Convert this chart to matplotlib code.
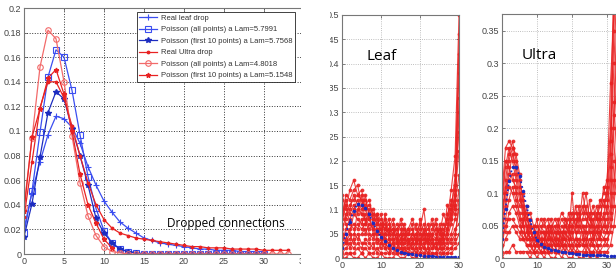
import numpy as np
import matplotlib
matplotlib.use("Agg")
import matplotlib.pyplot as plt
from matplotlib.patches import Rectangle

plt.rcParams['font.family'] = ['Liberation Sans', 'DejaVu Sans']

#### Data
x_leaf = np.arange(0, 31)
x_ultra = np.arange(0, 34)

leaf_real = [0.020, 0.050, 0.075, 0.097, 0.112, 0.110, 0.103, 0.090, 0.071, 0.056,
             0.043, 0.034, 0.026, 0.021, 0.017, 0.013, 0.011, 0.009, 0.008, 0.007,
             0.006, 0.005, 0.004, 0.004, 0.003, 0.003, 0.003, 0.002, 0.002, 0.002, 0.002]
leaf_pois_all = [0.017, 0.051, 0.099, 0.144, 0.166, 0.160, 0.133, 0.097, 0.063, 0.037,
                 0.019, 0.009, 0.004, 0.002, 0.001, 0.000, 0.000, 0.000, 0.000, 0.000,
                 0.000, 0.000, 0.000, 0.000, 0.000, 0.000, 0.000, 0.000, 0.000, 0.000, 0.000]
leaf_pois_10 = [0.014, 0.041, 0.079, 0.115, 0.132, 0.126, 0.102, 0.080, 0.056, 0.029,
                0.017, 0.009, 0.004, 0.002, 0.001, 0.000, 0.000, 0.000, 0.000, 0.000,
                0.000, 0.000, 0.000, 0.000, 0.000, 0.000, 0.000, 0.000, 0.000, 0.000, 0.000]
ultra_real = [0.030, 0.075, 0.119, 0.140, 0.140, 0.127, 0.104, 0.080, 0.058, 0.040,
              0.028, 0.021, 0.017, 0.015, 0.013, 0.012, 0.011, 0.010, 0.009, 0.008,
              0.007, 0.006, 0.006, 0.005, 0.005, 0.005, 0.004, 0.004, 0.004, 0.004,
              0.003, 0.003, 0.003, 0.003]
ultra_pois_all = [0.038, 0.094, 0.152, 0.182, 0.175, 0.140, 0.096, 0.058, 0.031, 0.015,
                  0.006, 0.002, 0.001, 0.000, 0.000, 0.000, 0.000, 0.000, 0.000, 0.000,
                  0.000, 0.000, 0.000, 0.000, 0.000, 0.000, 0.000, 0.000, 0.000, 0.000,
                  0.000, 0.000, 0.000, 0.000]
ultra_pois_10 = [0.035, 0.095, 0.118, 0.143, 0.150, 0.130, 0.100, 0.065, 0.040, 0.025,
                 0.012, 0.005, 0.002, 0.001, 0.000, 0.000, 0.000, 0.000, 0.000, 0.000,
                 0.000, 0.000, 0.000, 0.000, 0.000, 0.000, 0.000, 0.000, 0.000, 0.000,
                 0.000, 0.000, 0.000, 0.000]

labels = ['Real leaf drop',
          'Poisson (all points) a Lam=5.7991',
          'Poisson (first 10 points) a Lam=5.7568',
          'Real Ultra drop',
          'Poisson (all points) a Lam=4.8018',
          'Poisson (first 10 points) a Lam=5.1548']

# per-node curves, Leaf panel (x = 0..30)
leaf_nodes = [
    [0.13,0.10,0.14,0.16,0.13,0.12,0.10,0.11,0.09,0.07,0.08,0.06,0.07,0.05,0.06,0.04,0.05,0.06,0.04,0.05,0.03,0.04,0.05,0.03,0.04,0.06,0.05,0.08,0.14,0.21,0.50],
    [0.08,0.13,0.12,0.14,0.15,0.11,0.12,0.09,0.10,0.08,0.06,0.07,0.05,0.06,0.04,0.05,0.07,0.03,0.05,0.04,0.06,0.10,0.03,0.05,0.02,0.04,0.07,0.06,0.10,0.17,0.42],
    [0.05,0.09,0.11,0.12,0.13,0.14,0.10,0.08,0.09,0.07,0.09,0.05,0.06,0.08,0.05,0.03,0.04,0.05,0.06,0.03,0.04,0.05,0.06,0.07,0.05,0.03,0.04,0.11,0.08,0.14,0.38],
    [0.03,0.06,0.08,0.10,0.12,0.10,0.11,0.12,0.08,0.06,0.05,0.08,0.04,0.05,0.07,0.06,0.03,0.04,0.03,0.05,0.07,0.04,0.03,0.06,0.07,0.05,0.09,0.07,0.12,0.10,0.30],
    [0.10,0.07,0.05,0.09,0.08,0.07,0.09,0.06,0.07,0.05,0.06,0.04,0.03,0.04,0.03,0.05,0.02,0.03,0.04,0.02,0.05,0.03,0.04,0.02,0.03,0.07,0.03,0.05,0.09,0.13,0.22],
    [0.02,0.04,0.06,0.07,0.06,0.08,0.05,0.07,0.06,0.04,0.03,0.05,0.06,0.03,0.02,0.04,0.05,0.02,0.03,0.04,0.02,0.06,0.02,0.04,0.06,0.02,0.05,0.04,0.07,0.11,0.17],
    [0.06,0.03,0.04,0.05,0.04,0.05,0.06,0.04,0.05,0.03,0.04,0.02,0.04,0.02,0.03,0.02,0.03,0.04,0.02,0.03,0.04,0.02,0.05,0.03,0.02,0.04,0.02,0.03,0.05,0.08,0.14],
    [0.01,0.02,0.03,0.02,0.03,0.02,0.04,0.03,0.02,0.04,0.02,0.03,0.02,0.01,0.02,0.03,0.01,0.02,0.01,0.02,0.01,0.03,0.01,0.02,0.03,0.01,0.02,0.04,0.03,0.05,0.10],
    [0.04,0.05,0.02,0.04,0.10,0.09,0.08,0.05,0.04,0.06,0.05,0.03,0.02,0.03,0.05,0.01,0.02,0.01,0.03,0.01,0.02,0.01,0.02,0.01,0.01,0.02,0.03,0.02,0.04,0.06,0.07],
    [0.00,0.01,0.01,0.01,0.02,0.01,0.02,0.01,0.01,0.02,0.01,0.01,0.01,0.02,0.01,0.01,0.02,0.01,0.01,0.00,0.01,0.01,0.00,0.01,0.01,0.00,0.01,0.01,0.02,0.03,0.05],
    [0.07,0.12,0.09,0.11,0.09,0.13,0.07,0.10,0.08,0.09,0.07,0.06,0.08,0.04,0.06,0.07,0.04,0.06,0.08,0.06,0.05,0.07,0.04,0.08,0.06,0.05,0.04,0.09,0.11,0.15,0.26],
    [0.00,0.00,0.01,0.00,0.00,0.01,0.00,0.01,0.00,0.00,0.01,0.00,0.00,0.00,0.01,0.00,0.00,0.01,0.00,0.00,0.01,0.00,0.00,0.00,0.01,0.00,0.00,0.01,0.01,0.02,0.03],
    [0.12,0.08,0.10,0.13,0.11,0.09,0.13,0.08,0.06,0.09,0.04,0.09,0.05,0.07,0.03,0.08,0.06,0.05,0.07,0.03,0.08,0.05,0.07,0.04,0.08,0.03,0.06,0.05,0.08,0.12,0.33],
    [0.02,0.03,0.05,0.03,0.05,0.03,0.03,0.02,0.03,0.01,0.03,0.02,0.01,0.03,0.01,0.02,0.01,0.03,0.02,0.01,0.03,0.02,0.01,0.03,0.02,0.03,0.01,0.02,0.02,0.04,0.12],
    [0.09,0.11,0.07,0.06,0.07,0.06,0.07,0.09,0.05,0.05,0.07,0.04,0.05,0.06,0.04,0.03,0.06,0.03,0.05,0.07,0.03,0.05,0.03,0.05,0.04,0.06,0.03,0.06,0.10,0.09,0.46],
]

# per-node curves, Ultra panel (x = 0..33)
ultra_nodes = [
    [0.10,0.17,0.18,0.17,0.13,0.10,0.07,0.05,0.03,0.04,0.02,0.03,0.02,0.04,0.03,0.05,0.04,0.06,0.05,0.04,0.07,0.05,0.06,0.08,0.06,0.05,0.07,0.06,0.08,0.10,0.12,0.20,0.45,0.60],
    [0.05,0.12,0.16,0.18,0.15,0.12,0.09,0.06,0.05,0.03,0.04,0.02,0.03,0.05,0.02,0.04,0.06,0.03,0.05,0.06,0.04,0.08,0.05,0.10,0.07,0.06,0.05,0.08,0.06,0.09,0.07,0.14,0.40,0.55],
    [0.08,0.14,0.17,0.15,0.12,0.09,0.08,0.04,0.06,0.02,0.03,0.05,0.04,0.02,0.05,0.03,0.02,0.05,0.04,0.03,0.10,0.04,0.07,0.05,0.04,0.09,0.04,0.05,0.07,0.06,0.11,0.27,0.38,0.50],
    [0.03,0.09,0.13,0.16,0.14,0.11,0.06,0.07,0.04,0.05,0.02,0.04,0.06,0.03,0.04,0.02,0.05,0.04,0.03,0.07,0.05,0.06,0.04,0.06,0.08,0.04,0.06,0.04,0.05,0.11,0.09,0.16,0.30,0.45],
    [0.06,0.11,0.12,0.13,0.10,0.08,0.10,0.05,0.03,0.04,0.06,0.02,0.03,0.04,0.06,0.04,0.03,0.02,0.06,0.04,0.03,0.05,0.08,0.03,0.05,0.07,0.03,0.07,0.04,0.05,0.06,0.10,0.24,0.40],
    [0.02,0.06,0.09,0.11,0.09,0.07,0.05,0.08,0.02,0.03,0.04,0.03,0.02,0.05,0.03,0.02,0.04,0.03,0.02,0.05,0.02,0.03,0.05,0.04,0.02,0.05,0.05,0.03,0.06,0.04,0.05,0.08,0.20,0.30],
    [0.04,0.04,0.07,0.08,0.07,0.05,0.04,0.03,0.05,0.02,0.01,0.02,0.04,0.02,0.01,0.03,0.02,0.04,0.03,0.02,0.04,0.02,0.03,0.02,0.04,0.02,0.03,0.04,0.03,0.07,0.04,0.07,0.15,0.25],
    [0.01,0.03,0.04,0.05,0.04,0.03,0.06,0.02,0.01,0.02,0.03,0.01,0.01,0.02,0.02,0.01,0.03,0.01,0.02,0.01,0.02,0.01,0.02,0.03,0.01,0.03,0.02,0.01,0.02,0.03,0.02,0.05,0.10,0.20],
    [0.09,0.15,0.14,0.12,0.11,0.06,0.03,0.04,0.03,0.01,0.02,0.01,0.02,0.01,0.02,0.01,0.01,0.02,0.01,0.03,0.01,0.02,0.01,0.01,0.02,0.01,0.01,0.02,0.01,0.02,0.03,0.04,0.08,0.15],
    [0.00,0.01,0.01,0.02,0.01,0.01,0.01,0.01,0.00,0.01,0.00,0.01,0.00,0.01,0.00,0.00,0.01,0.00,0.01,0.00,0.00,0.01,0.00,0.00,0.01,0.00,0.01,0.00,0.01,0.01,0.01,0.02,0.05,0.10],
    [0.07,0.10,0.15,0.17,0.16,0.13,0.08,0.06,0.07,0.05,0.03,0.06,0.05,0.06,0.04,0.06,0.05,0.07,0.06,0.05,0.06,0.07,0.06,0.07,0.10,0.06,0.08,0.06,0.09,0.08,0.10,0.18,0.35,0.60],
    [0.04,0.08,0.11,0.10,0.08,0.06,0.05,0.03,0.04,0.03,0.05,0.04,0.01,0.03,0.05,0.03,0.04,0.02,0.04,0.03,0.05,0.04,0.02,0.05,0.03,0.04,0.02,0.05,0.03,0.05,0.08,0.12,0.22,0.35],
    [0.02,0.05,0.06,0.06,0.05,0.04,0.03,0.02,0.02,0.01,0.02,0.02,0.03,0.01,0.03,0.02,0.01,0.03,0.01,0.02,0.01,0.03,0.02,0.02,0.03,0.01,0.04,0.02,0.04,0.03,0.04,0.06,0.12,0.18],
]

blue = '#3b4ef0'
dark_blue = '#1c2cc0'
red = '#e82222'
light_red = '#f26a6a'

fig = plt.figure(figsize=(6.16, 2.71), dpi=100)

def style(ax, grid_color, grid_lw):
    ax.grid(True, linestyle=':', color=grid_color, linewidth=grid_lw)
    ax.set_axisbelow(True)
    ax.tick_params(direction='in', top=True, right=True, length=2.5, width=0.5,
                   labelsize=6.5, labelcolor='#444444', pad=2, color='#555555')
    for s in ax.spines.values():
        s.set_color('#777777')
        s.set_linewidth(0.8)

###  Painel da esquerda
ax1 = fig.add_axes([24/616, 17/271, 280/616, 246/271])
ax1.plot(x_leaf, leaf_real, '-', marker='+', color=blue, lw=0.9, ms=4, mew=0.8, label=labels[0])
ax1.plot(x_leaf, leaf_pois_all, '-', marker='s', color=blue, lw=0.9, ms=4.5, mfc='none', mew=0.8, label=labels[1])
ax1.plot(x_leaf, leaf_pois_10, '-', marker='*', color=dark_blue, lw=0.9, ms=4, label=labels[2])
ax1.plot(x_ultra, ultra_real, '-', marker='.', color=red, lw=0.9, ms=3.5, label=labels[3])
ax1.plot(x_ultra, ultra_pois_all, '-', marker='o', color=light_red, lw=0.9, ms=4, mfc='none', mew=0.8, label=labels[4])
ax1.plot(x_ultra[:12], ultra_pois_10[:12], '-', marker='*', color=red, lw=0.9, ms=3.5, label=labels[5])
ax1.set_xlim(0, 35)
ax1.set_ylim(0, 0.2)
ax1.set_xticks(np.arange(0, 36, 5))
ax1.set_yticks(np.arange(0, 0.201, 0.02))
ax1.set_yticklabels(['0', '0.02', '0.04', '0.06', '0.08', '0.1', '0.12', '0.14', '0.16', '0.18', '0.2'])
style(ax1, '#333333', 0.7)
leg = ax1.legend(loc='upper right', bbox_to_anchor=(271/280, 242/246), fontsize=5.5,
                 frameon=True, fancybox=False, framealpha=1, edgecolor='#222222',
                 handlelength=2.4, handletextpad=0.5, labelspacing=0.55, borderpad=0.3,
                 borderaxespad=0)
leg.get_frame().set_linewidth(0.6)
for t in leg.get_texts():
    t.set_color('#333333')
ax1.text(17.9, 0.022, 'Dropped connections', fontsize=8.5, family=['Open Sans', 'DejaVu Sans'],
         color='black', va='baseline')

### Painel Leaf
ax2 = fig.add_axes([342/616, 13/271, 117/616, 243/271])
for node in leaf_nodes:
    ax2.plot(x_leaf, node, '-', marker='.', color=red, lw=0.8, ms=3.5, alpha=0.85)
ax2.plot(x_leaf, leaf_real, ':', color=dark_blue, lw=1.3, marker='.', ms=3)
ax2.set_xlim(0, 30)
ax2.set_ylim(0, 0.5)
ax2.set_xticks([0, 10, 20, 30])
ax2.set_yticks(np.arange(0, 0.501, 0.05))
ax2.set_yticklabels(['0', '0.05', '0.1', '0.15', '0.2', '0.25', '0.3', '0.35', '0.4', '0.45', '0.5'])
style(ax2, '#aaaaaa', 0.6)
ax2.text(6.2, 0.407, 'Leaf', fontsize=11, family=['Open Sans', 'DejaVu Sans'], va='baseline')

### Painel Ultra
ax3 = fig.add_axes([502/616, 13/271, 122.5/616, 244/271])
for node in ultra_nodes:
    ax3.plot(x_ultra, node, '-', marker='.', color=red, lw=0.8, ms=3.5, alpha=0.85)
ax3.plot(x_ultra, ultra_real, ':', color=dark_blue, lw=1.3, marker='.', ms=3)
ax3.set_xlim(0, 35)
ax3.set_ylim(0, 0.376)
ax3.set_xticks([0, 10, 20, 30])
ax3.set_yticks(np.arange(0, 0.351, 0.05))
ax3.set_yticklabels(['0', '0.05', '0.1', '0.15', '0.2', '0.25', '0.3', '0.35'])
style(ax3, '#aaaaaa', 0.6)
ax3.text(5.7, 0.307, 'Ultra', fontsize=11, family=['Open Sans', 'DejaVu Sans'], va='baseline')

# faixa branca entre os paineis (recorte da imagem original)
fig.add_artist(Rectangle((301/616, 0), 29/616, 1, transform=fig.transFigure,
                         facecolor='white', edgecolor='none', zorder=5))

plt.savefig('out.png', dpi=100)
